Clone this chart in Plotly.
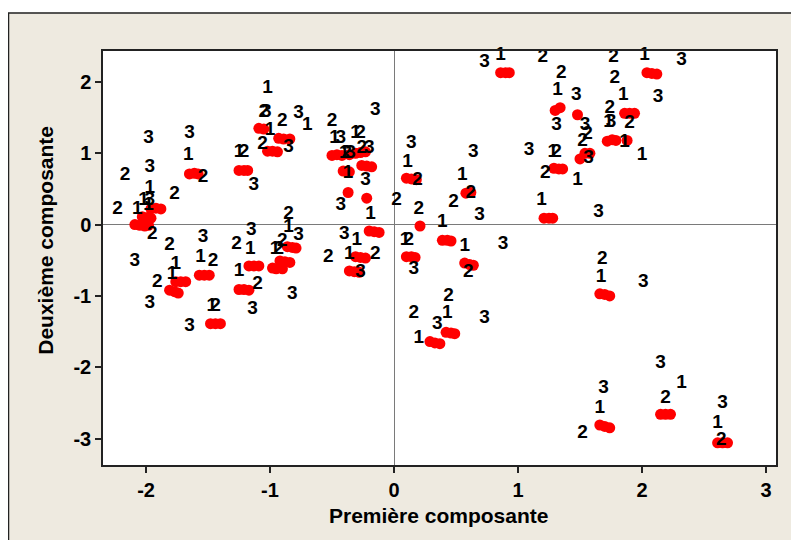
import plotly.graph_objects as go

# ---- data: red point clusters (component scores) ----
marker_x = [
    0.86, 0.90, 0.93,
    2.04, 2.08, 2.12,
    1.30, 1.34,
    1.48,
    1.86, 1.90, 1.94,
    1.72, 1.76, 1.79, 1.88,
    1.54, 1.58, 1.50,
    1.29, 1.33, 1.36,
    0.58, 0.62,
    1.21, 1.25, 1.28,
    0.21,
    0.39, 0.43, 0.46,
    0.10, 0.14, 0.17,
    0.57, 0.61, 0.64,
    0.42, 0.46, 0.49,
    0.29, 0.33, 0.37,
    1.66, 1.70, 1.74,
    1.66, 1.70, 1.74,
    2.15, 2.19, 2.23,
    2.61, 2.65, 2.69,
    -1.65, -1.61, -1.58,
    -1.25, -1.21, -1.18,
    -1.09, -1.05,
    -1.02, -0.98, -0.94,
    -0.93, -0.89, -0.84,
    -0.50, -0.46, -0.42, -0.36, -0.31, -0.27, -0.23,
    -0.26, -0.22, -0.18,
    -0.41, -0.36,
    -0.37,
    -0.22,
    0.10, 0.14, 0.18,
    -0.20, -0.16, -0.12,
    -2.03, -1.99, -1.96,
    -1.96, -1.92, -1.88,
    -2.09, -2.05, -2.01, -1.98,
    -1.17, -1.13, -1.09,
    -1.57, -1.53, -1.49,
    -1.76, -1.72, -1.68,
    -1.81, -1.77, -1.74,
    -1.25, -1.21, -1.17,
    -1.48, -1.44, -1.40,
    -0.86, -0.82, -0.79,
    -0.92, -0.88, -0.84,
    -0.98, -0.95, -0.90,
    -0.31, -0.27, -0.23,
    -0.36, -0.32, -0.28,
]
marker_y = [
    2.13, 2.13, 2.13,
    2.13, 2.12, 2.11,
    1.60, 1.64,
    1.54,
    1.56, 1.56, 1.56,
    1.17, 1.19, 1.18, 1.18,
    1.00, 1.00, 0.92,
    0.79, 0.78, 0.78,
    0.44, 0.45,
    0.09, 0.09, 0.09,
    -0.02,
    -0.22, -0.22, -0.23,
    -0.45, -0.45, -0.46,
    -0.54, -0.56, -0.57,
    -1.51, -1.52, -1.53,
    -1.64, -1.66, -1.67,
    -0.97, -0.98, -1.00,
    -2.81, -2.83, -2.85,
    -2.66, -2.66, -2.66,
    -3.06, -3.06, -3.06,
    0.71, 0.72, 0.71,
    0.76, 0.76, 0.76,
    1.35, 1.34,
    1.03, 1.03, 1.02,
    1.21, 1.20, 1.20,
    0.97, 0.98, 0.97, 0.98, 1.00, 1.01, 1.02,
    0.83, 0.82, 0.81,
    0.75, 0.74,
    0.45,
    0.37,
    0.65, 0.64, 0.63,
    -0.09, -0.10, -0.11,
    0.11, 0.10, 0.09,
    0.22, 0.23, 0.22,
    0.00, -0.01, -0.02, -0.01,
    -0.58, -0.58, -0.58,
    -0.71, -0.71, -0.71,
    -0.80, -0.80, -0.80,
    -0.92, -0.94, -0.96,
    -0.91, -0.91, -0.92,
    -1.39, -1.39, -1.39,
    -0.31, -0.32, -0.33,
    -0.51, -0.52, -0.53,
    -0.61, -0.62, -0.62,
    -0.45, -0.46, -0.47,
    -0.65, -0.66, -0.67,
]

# ---- data: numeric labels scattered on the map ----
label_text = [
    "3", "3", "2", "3", "1", "2", "1", "2", "2", "1", "1", "3", "1", "1", "2", "3",
    "1", "2", "3", "1", "2", "2", "3", "1", "3", "2", "1", "3", "1", "2", "3",
    "1", "2", "3", "2", "3", "1", "3", "3", "1", "2", "3", "1", "2", "2", "2", "1", "3",
    "2", "2", "3", "3", "1", "2", "1", "1", "2", "3", "1", "2", "3", "2", "1", "3",
    "1", "2", "3", "2", "1", "2", "3", "3", "1", "2", "1", "2", "3",
    "1", "2", "3", "2", "1", "1", "1", "3", "2", "2", "1", "3", "3",
    "3", "1", "2", "2", "1", "3", "3", "3", "2", "2", "3", "3", "1", "2", "2", "1",
    "3", "1", "2", "2", "3", "1", "3", "2", "1", "3", "2", "1", "3", "2", "1", "3",
    "2", "1", "1",
    "2", "1", "3", "3", "1", "3", "2", "1", "2", "3", "1", "2",
]
label_x = [
    -1.98, -1.65, -2.17, -1.97, -1.66, -1.54, -1.97, -1.77, -2.23, -2.07, -2.02, -1.97, -1.98, -1.25, -1.21, -1.13,
    -1.02, -1.05, -1.03, -1.00, -1.06, -0.90, -0.77, -0.70, -0.85, -0.50, -0.48, -0.43, -0.31, -0.27, -0.15,
    -0.40, -0.38, -0.35, -0.26, -0.20, -0.37, -0.23, -0.43, -0.19, 0.02, 0.14, 0.11, 0.19, 0.20, -0.85, -0.85, -0.77,
    -1.95, -1.81, -2.09, -1.54, -1.56, -1.46, -1.76, -1.79, -1.91, -1.97, -1.47, -1.44, -1.65, -1.27, -1.16, -1.15,
    -1.25, -1.10, -1.14, -0.90, -0.96, -0.93, -0.82, -0.40, -0.30, -0.53, -0.36, -0.15, -0.27,
    0.09, 0.12, 0.16, 0.16, 0.20, 0.39, 0.57, 0.88, 0.60, 0.44, 0.43, 0.35, 0.73,
    0.73, 0.86, 1.20, 1.35, 1.32, 1.47, 1.31, 1.54, 1.56, 1.52, 1.57, 1.09, 1.28, 1.31, 1.22, 1.48,
    0.64, 0.55, 0.62, 0.48, 0.69, 1.19, 1.65, 1.77, 2.02, 2.32, 1.78, 1.85, 2.13, 1.74, 1.73, 1.75,
    1.90, 1.86, 2.00,
    1.68, 1.67, 2.01, 2.15, 2.32, 1.69, 2.19, 1.66, 1.52, 2.65, 2.61, 2.64,
]
label_y = [
    1.21, 1.28, 0.69, 0.80, 0.97, 0.66, 0.51, 0.42, 0.22, 0.22, 0.34, 0.34, 0.27, 1.01, 1.01, 0.55,
    1.91, 1.57, 1.57, 1.32, 1.12, 1.45, 1.56, 1.39, 1.08, 1.45, 1.21, 1.21, 1.28, 1.28, 1.60,
    1.00, 1.00, 1.00, 1.07, 1.07, 0.72, 0.62, 0.27, 0.15, 0.34, 1.14, 0.87, 0.62, 0.22, 0.15, -0.04, -0.15,
    -0.14, -0.29, -0.51, -0.18, -0.46, -0.52, -0.55, -0.69, -0.81, -1.10, -1.14, -1.14, -1.43, -0.28, -0.35, -0.08,
    -0.66, -0.83, -1.19, -0.24, -0.35, -0.35, -0.97, -0.13, -0.22, -0.46, -0.42, -0.42, -0.67,
    -0.22, -0.22, -0.62, -1.25, -1.59, 0.03, -0.31, -0.27, -0.67, -1.00, -1.25, -1.40, -1.32,
    2.28, 2.37, 2.35, 2.12, 1.88, 1.81, 1.39, 1.39, 1.26, 1.17, 0.93, 1.04, 1.01, 1.01, 0.72, 0.62,
    1.01, 0.69, 0.44, 0.31, 0.13, 0.34, 0.17, 2.35, 2.37, 2.30, 2.05, 1.81, 1.78, 1.63, 1.43, 1.43,
    1.42, 1.15, 0.97,
    -0.49, -0.74, -0.81, -1.94, -2.23, -2.29, -2.43, -2.58, -2.92, -2.50, -2.79, -3.03,
]

x_ticks = [-2, -1, 0, 1, 2, 3]
x_ticktext = ["-2", "-1", "0", "1", "2", "3"]
y_ticks = [-3, -2, -1, 0, 1, 2]
y_ticktext = ["-3", "-2", "-1", "0", "1", "2"]
x_title = "Première composante"
y_title = "Deuxième composante"

FONT = "Liberation Sans, Arial, sans-serif"
BG = "#EEEAE0"

fig = go.Figure()
fig.add_trace(go.Scatter(
    x=marker_x, y=marker_y, mode="markers",
    marker=dict(color="#FF0000", size=11, line=dict(width=0)),
    hoverinfo="x+y", showlegend=False, cliponaxis=False,
))
fig.add_trace(go.Scatter(
    x=label_x, y=label_y, mode="text", text=label_text,
    textposition="middle center",
    textfont=dict(family=FONT, size=19, color="black", weight="bold"),
    hoverinfo="skip", showlegend=False, cliponaxis=False,
))

axis_common = dict(
    showgrid=False, showline=True, linecolor="#222", linewidth=1.5, mirror=True,
    ticks="outside", ticklen=6, tickwidth=1.5, tickcolor="#222",
    zeroline=True, zerolinecolor="#7a7a7a", zerolinewidth=1,
    tickfont=dict(family=FONT, size=20, color="black", weight="bold"),
)

fig.update_layout(
    width=799, height=540,
    margin=dict(l=95, r=31, t=43, b=83),
    paper_bgcolor=BG, plot_bgcolor="white",
    xaxis=dict(range=[-2.347, 3.081], tickvals=x_ticks, ticktext=x_ticktext, **axis_common),
    yaxis=dict(range=[-3.371, 2.434], tickvals=y_ticks, ticktext=y_ticktext, **axis_common),
    annotations=[
        dict(text=x_title, xref="paper", yref="paper", x=0.498, y=-0.123,
             xanchor="center", yanchor="middle", showarrow=False,
             font=dict(family=FONT, size=21, color="black", weight="bold")),
        dict(text=y_title, xref="paper", yref="paper", x=-0.086, y=0.542,
             xanchor="center", yanchor="middle", showarrow=False, textangle=-90,
             font=dict(family=FONT, size=21, color="black", weight="bold")),
    ],
    shapes=[
        dict(type="rect", xref="paper", yref="paper", x0=-0.16, x1=1.1, y0=1.093, y1=1.12,
             line=dict(width=0), fillcolor="white", layer="below"),
        dict(type="rect", xref="paper", yref="paper", x0=-0.1404, x1=1.08, y0=-0.25, y1=1.0918,
             line=dict(color="#222", width=1.5), fillcolor="rgba(0,0,0,0)", layer="below"),
    ],
)

fig.write_html("out.html")
